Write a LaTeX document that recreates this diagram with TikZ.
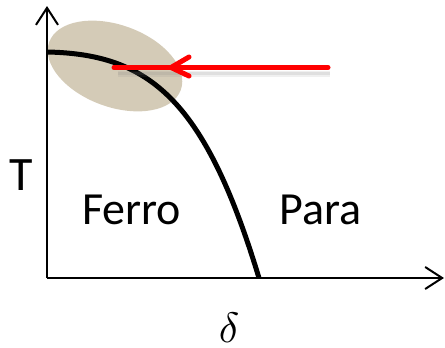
\documentclass[tikz,border=0pt]{standalone}
\usepackage{fontspec}
\setmainfont{Carlito}
\usetikzlibrary{arrows.meta}
\definecolor{blobtan}{RGB}{212,203,183}
\definecolor{arrred}{RGB}{255,0,0}
\tikzset{
  axisline/.style={line width=2pt,-{Straight Barb[length=17pt,width=22pt,line width=2pt]}},
  phaseline/.style={line width=5pt},
  redline/.style={arrred,line width=5pt,line cap=round,line join=round},
  lbl/.style={inner sep=0pt,anchor=base west,font=\fontsize{46}{50}\selectfont}
}
\begin{document}
\begin{tikzpicture}[x=1pt,y=-1pt]
\useasboundingbox (0,0) rectangle (445,348);
% tan blob
\fill[blobtan] (115,66) ellipse[x radius=70,y radius=41,rotate=-20];
% axes
\coordinate (O) at (47,278);
\coordinate (Ytop) at (47,6);
\coordinate (Xend) at (444,278);
\draw[axisline] (O) -- (Ytop);
\draw[axisline] (O) -- (Xend);
% phase boundary
\coordinate (Cstart) at (47,52);
\coordinate (Cend) at (259,278);
\draw[phaseline] (Cstart) .. controls (150,54) and (205,100) .. (Cend);
% red arrow shadow
\draw[gray,opacity=0.12,line width=6pt] (118,74) -- (330,74);
\draw[gray,opacity=0.15,line width=3pt] (118,73) -- (330,73);
% red arrow
\coordinate (Rstart) at (328,67.5);
\coordinate (Rend) at (114,67.5);
\coordinate (Tip) at (171,67.5);
\draw[redline] (Rstart) -- (Rend);
\draw[redline] (189,57) -- (Tip) -- (189,76);
% labels
\node[lbl,font=\fontsize{48}{50}\selectfont] (T) at (9,190) {T};
\node[lbl] (ferro) at (82,224) {Ferro};
\node[lbl] (para) at (279,224) {Para};
\node[inner sep=0pt,scale=4.25] (delta) at (229,328) {$\delta$};
\end{tikzpicture}
\end{document}
